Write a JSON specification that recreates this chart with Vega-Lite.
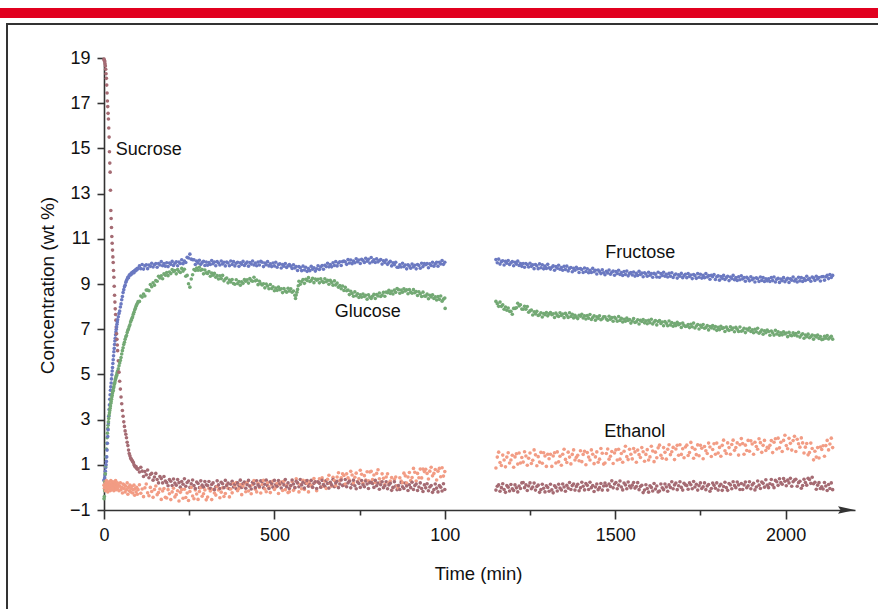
{
"$schema":"https://vega.github.io/schema/vega-lite/v6.json",
"width":751,"height":452,
"autosize":{"type":"none"},
"padding":{"left":104,"top":58,"right":23,"bottom":99},
"background":"white",
"config":{"view":{"stroke":null},"font":"Liberation Sans","text":{"font":"Liberation Sans"}},
"datasets":{
"labelL":[{"t":34.6,"v":14.93,"label":"Sucrose"}],
"labelC":[{"t":1573.6,"v":10.37,"label":"Fructose"},{"t":774,"v":7.76,"label":"Glucose"},{"t":1557.5,"v":2.45,"label":"Ethanol"}],
"obs":[
{"t":0,"F":0.30,"G":-0.50,"E":0.10,"S":18.95},
{"t":1,"F":0.35,"G":-0.40,"E":-0.05,"S":18.90},
{"t":2,"F":0.42,"G":-0.15,"E":0.25,"S":18.85},
{"t":3,"F":0.55,"G":0.25,"E":0.05,"S":18.75},
{"t":4,"F":0.72,"G":0.60,"E":-0.15,"S":18.65},
{"t":5,"F":0.88,"G":0.95,"E":0.20,"S":18.50},
{"t":6,"F":1.00,"G":1.35,"E":0.00,"S":18.30},
{"t":7,"F":1.15,"G":1.70,"E":0.30,"S":18.10},
{"t":8,"F":1.35,"G":1.95,"E":-0.10,"S":17.80},
{"t":9,"F":1.65,"G":2.20,"E":0.15,"S":17.45},
{"t":10,"F":1.95,"G":2.40,"E":0.05,"S":17.10},
{"t":11,"F":2.25,"G":2.60,"E":-0.20,"S":16.85},
{"t":12,"F":2.55,"G":2.75,"E":0.20,"S":16.55},
{"t":13,"F":2.85,"G":2.90,"E":0.10,"S":16.30},
{"t":14,"F":3.15,"G":3.05,"E":-0.05,"S":15.90},
{"t":15,"F":3.45,"G":3.20,"E":0.25,"S":15.50},
{"t":16,"F":3.65,"G":3.30,"E":0.00,"S":14.85},
{"t":17,"F":3.90,"G":3.40,"E":0.15,"S":14.35},
{"t":18,"F":4.10,"G":3.50,"E":-0.15,"S":13.95},
{"t":19,"F":4.30,"G":3.60,"E":0.10,"S":13.15},
{"t":20,"F":4.45,"G":3.72,"E":0.30,"S":12.25},
{"t":21,"F":4.62,"G":3.80,"E":0.05,"S":11.90},
{"t":22,"F":4.80,"G":3.90,"E":-0.10,"S":11.50},
{"t":23,"F":4.98,"G":4.00,"E":0.20,"S":11.10},
{"t":24,"F":5.15,"G":4.08,"E":0.10,"S":10.80},
{"t":25,"F":5.30,"G":4.18,"E":-0.05,"S":10.50},
{"t":26,"F":5.48,"G":4.25,"E":0.25,"S":10.20},
{"t":27,"F":5.65,"G":4.30,"E":0.00,"S":9.95},
{"t":28,"F":5.82,"G":4.40,"E":0.15,"S":9.60},
{"t":29,"F":6.00,"G":4.45,"E":-0.15,"S":9.30},
{"t":30,"F":6.15,"G":4.55,"E":0.10,"S":8.90},
{"t":31,"F":6.32,"G":4.60,"E":0.20,"S":8.50},
{"t":32,"F":6.48,"G":4.66,"E":-0.05,"S":8.20},
{"t":33,"F":6.60,"G":4.75,"E":0.10,"S":7.90},
{"t":34,"F":6.75,"G":4.80,"E":0.30,"S":7.65},
{"t":35,"F":6.88,"G":4.85,"E":0.05,"S":7.40},
{"t":36,"F":7.00,"G":4.92,"E":-0.10,"S":7.10},
{"t":37,"F":7.10,"G":4.96,"E":0.15,"S":6.80},
{"t":38,"F":7.22,"G":5.02,"E":0.00,"S":6.55},
{"t":39,"F":7.32,"G":5.10,"E":0.20,"S":6.30},
{"t":40,"F":7.42,"G":5.15,"E":-0.05,"S":6.05},
{"t":42,"F":7.55,"G":5.25,"E":0.10,"S":5.60},
{"t":44,"F":7.70,"G":5.38,"E":-0.15,"S":5.10},
{"t":46,"F":7.80,"G":5.50,"E":0.05,"S":4.70},
{"t":48,"F":7.98,"G":5.62,"E":0.20,"S":4.35},
{"t":50,"F":8.12,"G":5.75,"E":-0.10,"S":4.00},
{"t":52,"F":8.30,"G":5.90,"E":0.00,"S":3.70},
{"t":54,"F":8.45,"G":6.05,"E":-0.25,"S":3.40},
{"t":56,"F":8.62,"G":6.18,"E":0.15,"S":3.15},
{"t":58,"F":8.75,"G":6.32,"E":-0.05,"S":2.90},
{"t":60,"F":8.88,"G":6.42,"E":0.10,"S":2.70},
{"t":62,"F":8.95,"G":6.55,"E":-0.20,"S":2.50},
{"t":64,"F":9.08,"G":6.66,"E":0.05,"S":2.35},
{"t":66,"F":9.15,"G":6.72,"E":-0.10,"S":2.20},
{"t":68,"F":9.22,"G":6.85,"E":0.20,"S":2.00},
{"t":70,"F":9.30,"G":6.95,"E":-0.30,"S":1.85},
{"t":72,"F":9.28,"G":7.02,"E":0.00,"S":1.65},
{"t":74,"F":9.38,"G":7.12,"E":-0.15,"S":1.50},
{"t":76,"F":9.42,"G":7.20,"E":0.10,"S":1.40},
{"t":78,"F":9.40,"G":7.32,"E":-0.20,"S":1.30},
{"t":80,"F":9.48,"G":7.40,"E":-0.05,"S":1.25},
{"t":82,"F":9.45,"G":7.48,"E":0.05,"S":1.20},
{"t":84,"F":9.52,"G":7.55,"E":-0.25,"S":1.15},
{"t":86,"F":9.55,"G":7.66,"E":-0.10,"S":1.10},
{"t":88,"F":9.50,"G":7.75,"E":0.10,"S":1.00},
{"t":90,"F":9.60,"G":7.85,"E":-0.35,"S":0.95},
{"t":92,"F":9.58,"G":7.92,"E":-0.05,"S":0.90},
{"t":94,"F":9.65,"G":8.02,"E":-0.20,"S":0.92},
{"t":96,"F":9.62,"G":8.08,"E":0.00,"S":0.85},
{"t":98,"F":9.70,"G":8.15,"E":-0.30,"S":0.80},
{"t":100,"F":9.68,"G":8.22,"E":-0.10,"S":0.82},
{"t":104,"F":9.80,"G":8.23,"E":0.12,"S":0.68},
{"t":108,"F":9.68,"G":8.47,"E":-0.26,"S":0.89},
{"t":112,"F":9.86,"G":8.42,"E":-0.07,"S":0.72},
{"t":116,"F":9.66,"G":8.56,"E":-0.41,"S":0.48},
{"t":120,"F":9.80,"G":8.47,"E":-0.02,"S":0.70},
{"t":124,"F":9.85,"G":8.73,"E":0.15,"S":0.56},
{"t":128,"F":9.68,"G":8.73,"E":-0.24,"S":0.77},
{"t":132,"F":9.84,"G":8.70,"E":-0.37,"S":0.43},
{"t":136,"F":9.78,"G":8.98,"E":0.00,"S":0.57},
{"t":140,"F":9.92,"G":8.88,"E":-0.18,"S":0.62},
{"t":144,"F":9.75,"G":9.05,"E":-0.44,"S":0.32},
{"t":148,"F":9.85,"G":8.95,"E":-0.09,"S":0.46},
{"t":152,"F":9.91,"G":9.15,"E":0.06,"S":0.62},
{"t":156,"F":9.74,"G":9.12,"E":-0.32,"S":0.35},
{"t":160,"F":9.91,"G":9.34,"E":-0.23,"S":0.20},
{"t":164,"F":9.84,"G":9.27,"E":-0.07,"S":0.48},
{"t":168,"F":9.99,"G":9.36,"E":-0.53,"S":0.39},
{"t":172,"F":9.81,"G":9.23,"E":-0.16,"S":0.20},
{"t":176,"F":9.91,"G":9.45,"E":-0.05,"S":0.48},
{"t":180,"F":9.79,"G":9.39,"E":-0.44,"S":0.28},
{"t":184,"F":9.94,"G":9.51,"E":-0.47,"S":0.21},
{"t":188,"F":9.77,"G":9.37,"E":-0.10,"S":0.07},
{"t":192,"F":9.93,"G":9.53,"E":-0.28,"S":0.35},
{"t":196,"F":9.87,"G":9.46,"E":-0.54,"S":0.27},
{"t":200,"F":10.00,"G":9.64,"E":-0.20,"S":0.08},
{"t":204,"F":9.82,"G":9.55,"E":-0.04,"S":0.37},
{"t":208,"F":9.92,"G":9.60,"E":-0.42,"S":0.19},
{"t":212,"F":9.98,"G":9.45,"E":-0.32,"S":0.10},
{"t":216,"F":9.81,"G":9.64,"E":-0.15,"S":0.35},
{"t":220,"F":9.97,"G":9.55,"E":-0.60,"S":0.21},
{"t":224,"F":9.91,"G":9.51,"E":-0.22,"S":0.01},
{"t":228,"F":10.07,"G":9.69,"E":-0.10,"S":0.26},
{"t":232,"F":9.90,"G":9.57,"E":-0.48,"S":0.14},
{"t":236,"F":10.01,"G":9.65,"E":-0.08,"S":0.38},
{"t":240,"F":9.95,"G":9.34,"E":-0.45,"S":0.05},
{"t":244,"F":10.18,"G":9.38,"E":-0.25,"S":0.22},
{"t":248,"F":10.15,"G":9.01,"E":-0.58,"S":0.28},
{"t":252,"F":10.32,"G":8.86,"E":-0.18,"S":0.00},
{"t":256,"F":10.10,"G":9.22,"E":0.00,"S":0.16},
{"t":260,"F":10.07,"G":9.41,"E":-0.38,"S":0.33},
{"t":264,"F":10.07,"G":9.64,"E":-0.50,"S":0.08},
{"t":268,"F":9.86,"G":9.60,"E":-0.11,"S":-0.05},
{"t":272,"F":10.01,"G":9.71,"E":-0.29,"S":0.24},
{"t":276,"F":9.93,"G":9.61,"E":-0.53,"S":0.17},
{"t":280,"F":10.05,"G":9.74,"E":-0.18,"S":-0.01},
{"t":284,"F":9.87,"G":9.61,"E":-0.01,"S":0.29},
{"t":288,"F":9.95,"G":9.64,"E":-0.39,"S":0.10},
{"t":292,"F":10.00,"G":9.45,"E":-0.28,"S":0.01},
{"t":296,"F":9.82,"G":9.62,"E":-0.11,"S":0.26},
{"t":300,"F":9.97,"G":9.49,"E":-0.55,"S":0.12},
{"t":304,"F":9.83,"G":9.47,"E":-0.43,"S":0.08},
{"t":308,"F":9.95,"G":9.55,"E":-0.05,"S":0.26},
{"t":312,"F":9.86,"G":9.34,"E":-0.16,"S":-0.04},
{"t":316,"F":10.04,"G":9.48,"E":-0.54,"S":0.13},
{"t":320,"F":9.90,"G":9.39,"E":-0.08,"S":0.20},
{"t":324,"F":9.97,"G":9.47,"E":-0.25,"S":-0.10},
{"t":328,"F":9.81,"G":9.30,"E":-0.34,"S":0.03},
{"t":332,"F":9.99,"G":9.37,"E":0.04,"S":0.29},
{"t":336,"F":9.93,"G":9.22,"E":-0.11,"S":0.11},
{"t":340,"F":9.84,"G":9.36,"E":-0.46,"S":-0.05},
{"t":344,"F":10.02,"G":9.24,"E":-0.21,"S":0.23},
{"t":348,"F":9.89,"G":9.38,"E":-0.02,"S":0.16},
{"t":352,"F":9.96,"G":9.14,"E":-0.40,"S":-0.01},
{"t":356,"F":9.80,"G":9.22,"E":-0.27,"S":0.31},
{"t":360,"F":9.97,"G":9.26,"E":0.12,"S":0.07},
{"t":364,"F":9.93,"G":9.05,"E":-0.04,"S":0.19},
{"t":368,"F":9.81,"G":9.18,"E":-0.42,"S":-0.06},
{"t":372,"F":10.02,"G":9.09,"E":-0.07,"S":0.14},
{"t":376,"F":9.86,"G":9.20,"E":-0.24,"S":0.27},
{"t":380,"F":9.99,"G":9.02,"E":0.17,"S":0.02},
{"t":384,"F":9.80,"G":8.99,"E":0.06,"S":0.14},
{"t":388,"F":9.92,"G":9.19,"E":0.22,"S":-0.06},
{"t":392,"F":9.96,"G":9.02,"E":-0.15,"S":0.20},
{"t":396,"F":9.78,"G":9.11,"E":-0.05,"S":0.08},
{"t":400,"F":9.94,"G":8.95,"E":0.13,"S":0.32},
{"t":404,"F":9.87,"G":9.10,"E":-0.32,"S":0.00},
{"t":408,"F":10.00,"G":9.03,"E":0.06,"S":0.17},
{"t":412,"F":9.82,"G":9.20,"E":0.19,"S":0.24},
{"t":416,"F":9.91,"G":9.12,"E":-0.19,"S":-0.04},
{"t":420,"F":9.97,"G":9.19,"E":0.21,"S":0.12},
{"t":424,"F":9.79,"G":9.04,"E":-0.16,"S":0.31},
{"t":428,"F":9.95,"G":9.24,"E":0.05,"S":0.06},
{"t":432,"F":9.88,"G":9.15,"E":-0.28,"S":-0.07},
{"t":436,"F":10.02,"G":9.12,"E":0.12,"S":0.23},
{"t":440,"F":9.84,"G":9.30,"E":0.30,"S":0.16},
{"t":444,"F":9.93,"G":9.14,"E":-0.08,"S":-0.01},
{"t":448,"F":9.81,"G":9.17,"E":-0.20,"S":0.29},
{"t":452,"F":9.97,"G":8.97,"E":0.18,"S":0.11},
{"t":456,"F":9.84,"G":9.12,"E":0.00,"S":0.04},
{"t":460,"F":10.00,"G":9.01,"E":-0.25,"S":0.29},
{"t":464,"F":9.96,"G":8.96,"E":0.13,"S":0.26},
{"t":468,"F":9.77,"G":9.01,"E":0.31,"S":-0.02},
{"t":472,"F":9.93,"G":8.83,"E":-0.07,"S":0.14},
{"t":476,"F":9.85,"G":9.00,"E":-0.19,"S":0.32},
{"t":480,"F":9.99,"G":8.91,"E":0.20,"S":0.07},
{"t":484,"F":9.80,"G":8.79,"E":0.02,"S":-0.05},
{"t":488,"F":9.89,"G":8.98,"E":-0.23,"S":0.25},
{"t":492,"F":9.77,"G":8.80,"E":0.12,"S":0.18},
{"t":496,"F":9.93,"G":8.88,"E":0.28,"S":0.01},
{"t":500,"F":9.80,"G":8.70,"E":-0.09,"S":0.31},
{"t":504,"F":9.96,"G":8.82,"E":0.01,"S":0.13},
{"t":508,"F":9.74,"G":8.72,"E":0.18,"S":0.05},
{"t":512,"F":9.86,"G":8.86,"E":-0.27,"S":0.30},
{"t":516,"F":9.89,"G":8.75,"E":0.12,"S":0.17},
{"t":520,"F":9.71,"G":8.79,"E":0.24,"S":-0.03},
{"t":524,"F":9.86,"G":8.62,"E":-0.14,"S":0.23},
{"t":528,"F":9.79,"G":8.80,"E":0.27,"S":0.11},
{"t":532,"F":9.91,"G":8.69,"E":-0.10,"S":0.35},
{"t":536,"F":9.73,"G":8.64,"E":0.10,"S":0.03},
{"t":540,"F":9.81,"G":8.81,"E":-0.23,"S":0.20},
{"t":544,"F":9.86,"G":8.69,"E":-0.19,"S":-0.05},
{"t":548,"F":9.79,"G":8.79,"E":0.06,"S":0.08},
{"t":552,"F":9.69,"G":8.64,"E":0.25,"S":0.33},
{"t":556,"F":9.85,"G":8.69,"E":-0.13,"S":0.15},
{"t":560,"F":9.71,"G":8.50,"E":-0.01,"S":-0.01},
{"t":562,"G":8.36},
{"t":564,"F":9.77,"G":8.51,"E":0.38,"S":0.27},
{"t":566,"G":8.64},
{"t":568,"F":9.60,"G":8.76,"E":0.20,"S":0.20},
{"t":570,"G":8.92},
{"t":572,"F":9.77,"G":9.12,"E":-0.20,"S":0.03},
{"t":576,"F":9.72,"G":8.99,"E":0.13,"S":0.35},
{"t":580,"F":9.59,"G":9.11,"E":-0.06,"S":0.11},
{"t":584,"F":9.79,"G":9.20,"E":0.31,"S":0.23},
{"t":588,"F":9.62,"G":9.03,"E":-0.09,"S":-0.03},
{"t":592,"F":9.74,"G":9.21,"E":0.29,"S":0.17},
{"t":596,"F":9.56,"G":9.15,"E":0.18,"S":0.30},
{"t":600,"F":9.68,"G":9.28,"E":-0.20,"S":0.05},
{"t":604,"F":9.59,"G":9.11,"E":0.26,"S":0.13},
{"t":608,"F":9.78,"G":9.15,"E":0.09,"S":0.31},
{"t":612,"F":9.65,"G":9.25,"E":0.00,"S":0.01},
{"t":616,"F":9.72,"G":9.06,"E":0.39,"S":0.18},
{"t":620,"F":9.57,"G":9.22,"E":0.24,"S":0.25},
{"t":624,"F":9.67,"G":9.17,"E":-0.15,"S":-0.05},
{"t":628,"F":9.81,"G":9.21,"E":0.24,"S":0.25},
{"t":632,"F":9.64,"G":9.05,"E":0.38,"S":0.18},
{"t":636,"F":9.75,"G":9.23,"E":0.01,"S":0.01},
{"t":640,"F":9.82,"G":9.12,"E":0.42,"S":0.31},
{"t":644,"F":9.65,"G":9.07,"E":0.06,"S":0.13},
{"t":648,"F":9.83,"G":9.23,"E":0.27,"S":0.05},
{"t":652,"F":9.77,"G":9.10,"E":-0.05,"S":0.30},
{"t":656,"F":9.92,"G":9.16,"E":0.36,"S":0.17},
{"t":660,"F":9.76,"G":8.99,"E":0.54,"S":-0.03},
{"t":664,"F":9.86,"G":9.16,"E":0.17,"S":0.23},
{"t":668,"F":9.76,"G":9.07,"E":0.05,"S":0.11},
{"t":672,"F":9.94,"G":8.95,"E":0.45,"S":0.35},
{"t":676,"F":9.82,"G":9.14,"E":0.30,"S":0.03},
{"t":680,"F":9.99,"G":8.96,"E":0.08,"S":0.20},
{"t":684,"F":9.80,"G":9.04,"E":0.46,"S":0.27},
{"t":688,"F":9.93,"G":8.86,"E":0.65,"S":-0.01},
{"t":692,"F":9.98,"G":8.93,"E":0.30,"S":0.15},
{"t":696,"F":9.82,"G":8.79,"E":0.42,"S":0.33},
{"t":700,"F":9.99,"G":8.91,"E":0.60,"S":0.08},
{"t":704,"F":10.02,"G":8.71,"E":0.53,"S":0.11},
{"t":708,"F":9.98,"G":8.85,"E":0.15,"S":0.35},
{"t":712,"F":9.87,"G":8.70,"E":0.60,"S":0.03},
{"t":716,"F":10.08,"G":8.73,"E":0.43,"S":0.20},
{"t":720,"F":9.93,"G":8.53,"E":0.33,"S":0.27},
{"t":724,"F":10.06,"G":8.68,"E":0.71,"S":-0.02},
{"t":728,"F":9.90,"G":8.58,"E":0.55,"S":0.14},
{"t":732,"F":10.02,"G":8.46,"E":0.20,"S":0.32},
{"t":736,"F":9.94,"G":8.65,"E":0.45,"S":0.07},
{"t":740,"F":10.12,"G":8.48,"E":0.63,"S":-0.06},
{"t":744,"F":9.99,"G":8.57,"E":0.26,"S":0.24},
{"t":748,"F":10.06,"G":8.40,"E":0.38,"S":0.17},
{"t":752,"F":9.91,"G":8.52,"E":0.76,"S":0.00},
{"t":756,"F":10.09,"G":8.42,"E":0.58,"S":0.30},
{"t":760,"F":10.04,"G":8.56,"E":0.18,"S":0.12},
{"t":764,"F":9.95,"G":8.45,"E":0.52,"S":0.03},
{"t":768,"F":10.14,"G":8.50,"E":0.32,"S":0.28},
{"t":772,"F":10.01,"G":8.33,"E":0.69,"S":0.15},
{"t":776,"F":10.09,"G":8.52,"E":0.29,"S":-0.05},
{"t":780,"F":9.93,"G":8.42,"E":0.68,"S":0.21},
{"t":784,"F":10.17,"G":8.36,"E":0.71,"S":0.24},
{"t":788,"F":9.99,"G":8.46,"E":0.35,"S":0.17},
{"t":792,"F":10.07,"G":8.54,"E":0.55,"S":0.00},
{"t":796,"F":9.95,"G":8.36,"E":0.22,"S":0.31},
{"t":800,"F":10.11,"G":8.53,"E":0.62,"S":0.07},
{"t":804,"F":9.98,"G":8.47,"E":0.78,"S":0.19},
{"t":808,"F":10.04,"G":8.60,"E":0.38,"S":-0.08},
{"t":812,"F":10.08,"G":8.45,"E":0.24,"S":0.12},
{"t":816,"F":9.88,"G":8.51,"E":0.60,"S":0.25},
{"t":820,"F":10.03,"G":8.63,"E":0.40,"S":-0.01},
{"t":824,"F":9.95,"G":8.46,"E":0.13,"S":0.07},
{"t":828,"F":10.06,"G":8.64,"E":0.46,"S":0.25},
{"t":832,"F":9.87,"G":8.61,"E":0.60,"S":-0.06},
{"t":836,"F":9.95,"G":8.72,"E":0.20,"S":0.11},
{"t":840,"F":10.00,"G":8.58,"E":0.28,"S":0.18},
{"t":844,"F":9.80,"G":8.68,"E":0.44,"S":-0.13},
{"t":848,"F":9.94,"G":8.56,"E":-0.02,"S":0.00},
{"t":852,"F":9.85,"G":8.73,"E":0.35,"S":0.25},
{"t":856,"F":9.96,"G":8.63,"E":0.46,"S":0.06},
{"t":860,"F":9.74,"G":8.80,"E":0.07,"S":-0.10},
{"t":864,"F":9.74,"G":8.75,"E":-0.04,"S":0.08},
{"t":868,"F":9.85,"G":8.59,"E":0.43,"S":-0.09},
{"t":872,"F":9.75,"G":8.73,"E":0.28,"S":0.21},
{"t":876,"F":9.92,"G":8.64,"E":0.21,"S":0.03},
{"t":880,"F":9.77,"G":8.79,"E":0.63,"S":-0.05},
{"t":884,"F":9.84,"G":8.69,"E":0.51,"S":0.19},
{"t":888,"F":9.67,"G":8.74,"E":0.19,"S":0.06},
{"t":892,"F":9.85,"G":8.57,"E":0.46,"S":-0.14},
{"t":896,"F":9.79,"G":8.75,"E":0.66,"S":0.12},
{"t":900,"F":9.70,"G":8.64,"E":0.30,"S":-0.01},
{"t":904,"F":9.88,"G":8.59,"E":0.44,"S":0.23},
{"t":908,"F":9.76,"G":8.75,"E":0.84,"S":-0.09},
{"t":912,"F":9.83,"G":8.61,"E":0.67,"S":0.08},
{"t":916,"F":9.67,"G":8.67,"E":0.28,"S":0.15},
{"t":920,"F":9.86,"G":8.49,"E":0.62,"S":-0.14},
{"t":924,"F":9.82,"G":8.66,"E":0.43,"S":0.02},
{"t":928,"F":9.70,"G":8.57,"E":0.81,"S":0.20},
{"t":932,"F":9.92,"G":8.45,"E":0.42,"S":-0.05},
{"t":936,"F":9.77,"G":8.64,"E":0.81,"S":-0.18},
{"t":940,"F":9.90,"G":8.47,"E":0.70,"S":0.11},
{"t":944,"F":9.85,"G":8.46,"E":0.80,"S":-0.02},
{"t":948,"F":9.90,"G":8.55,"E":0.62,"S":0.16},
{"t":952,"F":9.72,"G":8.35,"E":0.37,"S":-0.15},
{"t":956,"F":9.89,"G":8.50,"E":0.72,"S":0.02},
{"t":960,"F":9.82,"G":8.43,"E":0.89,"S":0.08},
{"t":964,"F":9.96,"G":8.52,"E":0.51,"S":-0.22},
{"t":968,"F":9.79,"G":8.36,"E":0.62,"S":-0.10},
{"t":972,"F":9.89,"G":8.43,"E":0.79,"S":0.15},
{"t":976,"F":9.96,"G":8.29,"E":0.33,"S":-0.03},
{"t":980,"F":9.79,"G":8.44,"E":0.72,"S":-0.20},
{"t":984,"F":9.96,"G":8.32,"E":0.84,"S":0.08},
{"t":988,"F":9.89,"G":8.47,"E":0.47,"S":0.01},
{"t":992,"F":10.04,"G":8.24,"E":0.87,"S":-0.16},
{"t":996,"F":9.87,"G":8.33,"E":0.50,"S":0.16},
{"t":1000,"F":9.96,"G":8.38,"E":0.70,"S":-0.09},
{"t":1001,"G":7.92},
{"t":1150,"F":10.08,"G":8.23,"E":0.86,"S":-0.12},
{"t":1154,"F":9.94,"G":8.13,"E":1.34,"S":0.05},
{"t":1158,"F":10.10,"G":8.01,"E":1.56,"S":0.11},
{"t":1162,"F":9.88,"G":8.20,"E":1.10,"S":-0.17},
{"t":1166,"F":9.99,"G":8.01,"E":0.97,"S":-0.01},
{"t":1170,"F":10.03,"G":8.08,"E":1.43,"S":0.16},
{"t":1174,"F":9.84,"G":7.88,"E":1.21,"S":-0.09},
{"t":1178,"F":10.00,"G":7.98,"E":0.91,"S":-0.22},
{"t":1182,"F":9.92,"G":7.84,"E":1.34,"S":0.08},
{"t":1186,"F":10.04,"G":7.94,"E":1.53,"S":0.01},
{"t":1190,"F":9.86,"G":7.79,"E":1.08,"S":-0.16},
{"t":1194,"F":9.94,"G":7.79,"E":1.21,"S":0.13},
{"t":1198,"F":9.99,"G":7.66,"E":1.42,"S":-0.06},
{"t":1202,"F":9.81,"G":7.92,"E":0.89,"S":-0.14},
{"t":1206,"F":9.96,"G":7.92,"E":1.35,"S":0.11},
{"t":1210,"F":9.88,"G":7.95,"E":1.49,"S":-0.02},
{"t":1214,"F":10.01,"G":8.15,"E":1.03,"S":-0.20},
{"t":1218,"F":9.82,"G":8.03,"E":1.52,"S":0.06},
{"t":1222,"F":9.90,"G":8.08,"E":1.08,"S":-0.05},
{"t":1226,"F":9.78,"G":7.89,"E":1.32,"S":0.20},
{"t":1230,"F":9.91,"G":7.88,"E":1.12,"S":0.22},
{"t":1234,"F":9.74,"G":8.01,"E":1.58,"S":-0.01},
{"t":1238,"F":9.91,"G":7.88,"E":1.39,"S":0.11},
{"t":1242,"F":9.85,"G":8.00,"E":0.98,"S":-0.14},
{"t":1246,"F":9.75,"G":7.75,"E":1.29,"S":0.06},
{"t":1250,"F":9.92,"G":7.81,"E":1.52,"S":0.20},
{"t":1254,"F":9.78,"G":7.85,"E":1.06,"S":-0.06},
{"t":1258,"F":9.85,"G":7.63,"E":1.20,"S":0.02},
{"t":1262,"F":9.68,"G":7.77,"E":1.66,"S":0.19},
{"t":1266,"F":9.86,"G":7.68,"E":1.44,"S":-0.12},
{"t":1270,"F":9.81,"G":7.79,"E":0.96,"S":0.04},
{"t":1274,"F":9.68,"G":7.61,"E":1.36,"S":0.10},
{"t":1278,"F":9.89,"G":7.64,"E":1.12,"S":-0.22},
{"t":1282,"F":9.72,"G":7.73,"E":1.55,"S":-0.10},
{"t":1286,"F":9.85,"G":7.54,"E":1.07,"S":0.14},
{"t":1290,"F":9.67,"G":7.69,"E":1.53,"S":-0.04},
{"t":1294,"F":9.79,"G":7.64,"E":1.39,"S":-0.20},
{"t":1298,"F":9.69,"G":7.74,"E":0.93,"S":0.07},
{"t":1302,"F":9.87,"G":7.59,"E":1.47,"S":0.00},
{"t":1306,"F":9.72,"G":7.68,"E":1.27,"S":-0.17},
{"t":1310,"F":9.66,"G":7.74,"E":1.47,"S":0.14},
{"t":1314,"F":9.74,"G":7.64,"E":0.93,"S":-0.11},
{"t":1318,"F":9.80,"G":7.68,"E":1.39,"S":-0.24},
{"t":1322,"F":9.61,"G":7.52,"E":1.53,"S":0.07},
{"t":1326,"F":9.77,"G":7.71,"E":1.08,"S":0.00},
{"t":1330,"F":9.70,"G":7.61,"E":1.57,"S":-0.16},
{"t":1334,"F":9.83,"G":7.56,"E":1.13,"S":0.14},
{"t":1338,"F":9.65,"G":7.73,"E":1.38,"S":-0.03},
{"t":1342,"F":9.73,"G":7.61,"E":0.98,"S":-0.11},
{"t":1346,"F":9.61,"G":7.67,"E":1.47,"S":0.15},
{"t":1350,"F":9.78,"G":7.51,"E":1.69,"S":0.02},
{"t":1354,"F":9.64,"G":7.70,"E":1.24,"S":-0.17},
{"t":1358,"F":9.79,"G":7.62,"E":1.10,"S":0.09},
{"t":1362,"F":9.58,"G":7.52,"E":1.56,"S":-0.03},
{"t":1366,"F":9.69,"G":7.73,"E":1.34,"S":0.22},
{"t":1370,"F":9.73,"G":7.56,"E":1.04,"S":-0.09},
{"t":1374,"F":9.54,"G":7.66,"E":1.46,"S":0.08},
{"t":1378,"F":9.69,"G":7.50,"E":1.66,"S":0.15},
{"t":1382,"F":9.61,"G":7.62,"E":1.21,"S":-0.12},
{"t":1386,"F":9.74,"G":7.53,"E":1.33,"S":0.04},
{"t":1390,"F":9.67,"G":7.47,"E":1.42,"S":0.14},
{"t":1394,"F":9.51,"G":7.62,"E":1.18,"S":-0.15},
{"t":1398,"F":9.68,"G":7.57,"E":1.62,"S":-0.02},
{"t":1402,"F":9.64,"G":7.66,"E":1.14,"S":0.23},
{"t":1406,"F":9.51,"G":7.50,"E":1.46,"S":0.05},
{"t":1410,"F":9.71,"G":7.59,"E":1.60,"S":-0.11},
{"t":1414,"F":9.55,"G":7.45,"E":1.00,"S":0.17},
{"t":1418,"F":9.67,"G":7.60,"E":1.54,"S":0.09},
{"t":1422,"F":9.50,"G":7.49,"E":1.34,"S":-0.09},
{"t":1426,"F":9.61,"G":7.65,"E":1.21,"S":0.23},
{"t":1430,"F":9.51,"G":7.43,"E":1.66,"S":-0.01},
{"t":1434,"F":9.69,"G":7.52,"E":1.47,"S":0.08},
{"t":1438,"F":9.54,"G":7.59,"E":1.05,"S":-0.18},
{"t":1442,"F":9.61,"G":7.40,"E":1.35,"S":0.02},
{"t":1446,"F":9.44,"G":7.55,"E":1.57,"S":0.15},
{"t":1450,"F":9.62,"G":7.48,"E":1.11,"S":-0.10},
{"t":1454,"F":9.55,"G":7.59,"E":1.25,"S":-0.01},
{"t":1458,"F":9.46,"G":7.42,"E":1.72,"S":0.17},
{"t":1462,"F":9.63,"G":7.46,"E":1.51,"S":-0.12},
{"t":1466,"F":9.50,"G":7.55,"E":1.03,"S":0.06},
{"t":1470,"F":9.41,"G":7.55,"E":1.08,"S":0.19},
{"t":1474,"F":9.56,"G":7.45,"E":1.50,"S":0.07},
{"t":1478,"F":9.49,"G":7.40,"E":1.70,"S":-0.12},
{"t":1482,"F":9.62,"G":7.57,"E":1.25,"S":0.15},
{"t":1486,"F":9.43,"G":7.44,"E":1.38,"S":0.04},
{"t":1490,"F":9.52,"G":7.51,"E":1.59,"S":0.29},
{"t":1494,"F":9.57,"G":7.35,"E":1.06,"S":-0.02},
{"t":1498,"F":9.39,"G":7.53,"E":1.52,"S":0.15},
{"t":1502,"F":9.55,"G":7.46,"E":1.66,"S":0.22},
{"t":1506,"F":9.47,"G":7.35,"E":1.21,"S":-0.06},
{"t":1510,"F":9.61,"G":7.56,"E":1.69,"S":0.10},
{"t":1514,"F":9.42,"G":7.39,"E":1.25,"S":0.28},
{"t":1518,"F":9.51,"G":7.48,"E":1.50,"S":0.02},
{"t":1522,"F":9.38,"G":7.32,"E":1.11,"S":-0.11},
{"t":1526,"F":9.55,"G":7.44,"E":1.60,"S":0.19},
{"t":1530,"F":9.42,"G":7.35,"E":1.82,"S":0.11},
{"t":1534,"F":9.57,"G":7.49,"E":1.36,"S":-0.06},
{"t":1538,"F":9.36,"G":7.39,"E":1.23,"S":0.24},
{"t":1542,"F":9.47,"G":7.43,"E":1.69,"S":0.06},
{"t":1546,"F":9.51,"G":7.27,"E":1.47,"S":-0.02},
{"t":1550,"F":9.40,"G":7.36,"E":1.26,"S":0.10},
{"t":1554,"F":9.53,"G":7.47,"E":1.72,"S":0.22},
{"t":1558,"F":9.35,"G":7.30,"E":1.57,"S":-0.03},
{"t":1562,"F":9.47,"G":7.33,"E":1.11,"S":0.04},
{"t":1566,"F":9.38,"G":7.42,"E":1.65,"S":0.21},
{"t":1570,"F":9.56,"G":7.23,"E":1.45,"S":-0.10},
{"t":1574,"F":9.42,"G":7.39,"E":1.32,"S":0.04},
{"t":1578,"F":9.48,"G":7.34,"E":1.76,"S":0.09},
{"t":1582,"F":9.32,"G":7.43,"E":1.58,"S":-0.23},
{"t":1586,"F":9.50,"G":7.28,"E":1.16,"S":-0.12},
{"t":1590,"F":9.44,"G":7.37,"E":1.46,"S":0.12},
{"t":1594,"F":9.34,"G":7.24,"E":1.67,"S":-0.05},
{"t":1598,"F":9.52,"G":7.39,"E":1.21,"S":-0.21},
{"t":1602,"F":9.39,"G":7.29,"E":1.35,"S":0.07},
{"t":1606,"F":9.46,"G":7.44,"E":1.82,"S":0.00},
{"t":1610,"F":9.30,"G":7.23,"E":1.61,"S":-0.16},
{"t":1614,"F":9.47,"G":7.32,"E":1.14,"S":0.17},
{"t":1618,"F":9.43,"G":7.38,"E":1.56,"S":-0.07},
{"t":1622,"F":9.31,"G":7.19,"E":1.31,"S":0.06},
{"t":1626,"F":9.52,"G":7.34,"E":1.75,"S":-0.20},
{"t":1630,"F":9.30,"G":7.38,"E":1.87,"S":-0.16},
{"t":1634,"F":9.46,"G":7.25,"E":1.42,"S":0.15},
{"t":1638,"F":9.38,"G":7.32,"E":1.29,"S":-0.02},
{"t":1642,"F":9.52,"G":7.15,"E":1.76,"S":-0.10},
{"t":1646,"F":9.34,"G":7.34,"E":1.55,"S":0.15},
{"t":1650,"F":9.43,"G":7.26,"E":1.25,"S":0.02},
{"t":1654,"F":9.31,"G":7.15,"E":1.69,"S":-0.17},
{"t":1658,"F":9.47,"G":7.36,"E":1.89,"S":0.11},
{"t":1662,"F":9.34,"G":7.19,"E":1.45,"S":0.00},
{"t":1666,"F":9.50,"G":7.29,"E":1.58,"S":0.25},
{"t":1670,"F":9.29,"G":7.13,"E":1.77,"S":-0.06},
{"t":1674,"F":9.40,"G":7.25,"E":1.23,"S":0.11},
{"t":1678,"F":9.44,"G":7.16,"E":1.70,"S":0.19},
{"t":1682,"F":9.26,"G":7.30,"E":1.86,"S":-0.10},
{"t":1686,"F":9.41,"G":7.20,"E":1.42,"S":0.07},
{"t":1690,"F":9.34,"G":7.24,"E":1.89,"S":0.25},
{"t":1694,"F":9.47,"G":7.08,"E":1.46,"S":0.00},
{"t":1698,"F":9.28,"G":7.27,"E":1.71,"S":-0.12},
{"t":1702,"F":9.37,"G":7.17,"E":1.31,"S":0.18},
{"t":1706,"F":9.43,"G":7.12,"E":1.79,"S":0.11},
{"t":1710,"F":9.28,"G":7.13,"E":1.87,"S":0.08},
{"t":1714,"F":9.46,"G":7.21,"E":1.41,"S":-0.08},
{"t":1718,"F":9.33,"G":7.07,"E":1.54,"S":0.20},
{"t":1722,"F":9.40,"G":7.22,"E":1.99,"S":0.12},
{"t":1726,"F":9.24,"G":7.11,"E":1.76,"S":-0.06},
{"t":1730,"F":9.42,"G":7.27,"E":1.29,"S":0.26},
{"t":1734,"F":9.37,"G":7.05,"E":1.69,"S":0.02},
{"t":1738,"F":9.25,"G":7.14,"E":1.45,"S":0.14},
{"t":1742,"F":9.46,"G":7.21,"E":1.88,"S":-0.12},
{"t":1746,"F":9.30,"G":7.01,"E":1.40,"S":0.07},
{"t":1750,"F":9.43,"G":7.17,"E":1.86,"S":0.20},
{"t":1754,"F":9.26,"G":7.09,"E":1.73,"S":-0.05},
{"t":1758,"F":9.38,"G":7.21,"E":1.27,"S":0.03},
{"t":1762,"F":9.28,"G":7.04,"E":1.81,"S":0.20},
{"t":1766,"F":9.46,"G":7.07,"E":1.62,"S":-0.10},
{"t":1770,"F":9.31,"G":7.16,"E":1.50,"S":0.06},
{"t":1774,"F":9.37,"G":6.97,"E":1.96,"S":0.13},
{"t":1778,"F":9.21,"G":7.12,"E":1.79,"S":-0.17},
{"t":1782,"F":9.38,"G":7.06,"E":1.37,"S":-0.05},
{"t":1786,"F":9.32,"G":7.16,"E":1.68,"S":0.19},
{"t":1790,"F":9.42,"G":7.02,"E":1.93,"S":0.09},
{"t":1794,"F":9.20,"G":7.12,"E":1.47,"S":-0.04},
{"t":1798,"F":9.32,"G":6.95,"E":1.96,"S":0.20},
{"t":1802,"F":9.36,"G":7.08,"E":1.52,"S":-0.12},
{"t":1806,"F":9.17,"G":6.98,"E":1.77,"S":0.06},
{"t":1810,"F":9.33,"G":7.13,"E":1.38,"S":0.14},
{"t":1814,"F":9.25,"G":7.03,"E":1.86,"S":-0.13},
{"t":1818,"F":9.38,"G":7.06,"E":2.09,"S":0.04},
{"t":1822,"F":9.20,"G":6.90,"E":1.62,"S":0.23},
{"t":1826,"F":9.28,"G":7.09,"E":1.50,"S":-0.01},
{"t":1830,"F":9.34,"G":6.99,"E":1.97,"S":-0.13},
{"t":1834,"F":9.15,"G":6.94,"E":1.76,"S":0.17},
{"t":1838,"F":9.31,"G":7.11,"E":1.47,"S":0.11},
{"t":1842,"F":9.24,"G":6.99,"E":1.90,"S":-0.06},
{"t":1846,"F":9.38,"G":7.05,"E":2.09,"S":0.25},
{"t":1850,"F":9.19,"G":6.89,"E":1.64,"S":0.08},
{"t":1854,"F":9.28,"G":7.08,"E":1.76,"S":-0.01},
{"t":1858,"F":9.16,"G":7.00,"E":1.97,"S":0.24},
{"t":1862,"F":9.32,"G":6.90,"E":1.43,"S":0.11},
{"t":1866,"F":9.19,"G":7.10,"E":1.89,"S":-0.09},
{"t":1870,"F":9.36,"G":6.91,"E":2.16,"S":0.17},
{"t":1874,"F":9.22,"G":6.94,"E":1.94,"S":-0.09},
{"t":1878,"F":9.28,"G":7.04,"E":1.47,"S":0.11},
{"t":1882,"F":9.12,"G":6.85,"E":1.87,"S":0.24},
{"t":1886,"F":9.30,"G":7.01,"E":1.63,"S":-0.01},
{"t":1890,"F":9.23,"G":6.96,"E":2.08,"S":0.07},
{"t":1894,"F":9.14,"G":7.05,"E":1.60,"S":0.25},
{"t":1898,"F":9.32,"G":6.90,"E":2.06,"S":-0.06},
{"t":1902,"F":9.19,"G":6.97,"E":1.92,"S":0.11},
{"t":1906,"F":9.25,"G":6.84,"E":1.47,"S":0.18},
{"t":1910,"F":9.09,"G":7.00,"E":2.00,"S":-0.11},
{"t":1914,"F":9.27,"G":6.89,"E":1.81,"S":0.02},
{"t":1918,"F":9.23,"G":7.04,"E":1.69,"S":0.28},
{"t":1922,"F":9.11,"G":6.82,"E":2.15,"S":0.10},
{"t":1926,"F":9.31,"G":6.89,"E":1.98,"S":-0.05},
{"t":1930,"F":9.16,"G":6.96,"E":1.55,"S":0.24},
{"t":1934,"F":9.28,"G":6.78,"E":1.86,"S":0.18},
{"t":1938,"F":9.11,"G":6.93,"E":2.08,"S":0.01},
{"t":1942,"F":9.23,"G":6.84,"E":1.63,"S":0.34},
{"t":1946,"F":9.14,"G":6.96,"E":1.77,"S":0.10},
{"t":1950,"F":9.23,"G":6.90,"E":1.74,"S":-0.01},
{"t":1954,"F":9.11,"G":6.73,"E":1.86,"S":0.16},
{"t":1958,"F":9.28,"G":6.92,"E":2.07,"S":0.35},
{"t":1962,"F":9.15,"G":6.84,"E":1.54,"S":0.11},
{"t":1966,"F":9.31,"G":6.74,"E":2.00,"S":-0.01},
{"t":1970,"F":9.09,"G":6.95,"E":2.15,"S":0.31},
{"t":1974,"F":9.21,"G":6.79,"E":1.70,"S":0.25},
{"t":1978,"F":9.25,"G":6.88,"E":2.18,"S":0.09},
{"t":1982,"F":9.07,"G":6.73,"E":1.75,"S":0.38},
{"t":1986,"F":9.22,"G":6.84,"E":2.00,"S":0.21},
{"t":1990,"F":9.15,"G":6.75,"E":1.59,"S":0.14},
{"t":1994,"F":9.28,"G":6.89,"E":2.08,"S":0.39},
{"t":1998,"F":9.10,"G":6.79,"E":2.31,"S":0.27},
{"t":2002,"F":9.19,"G":6.83,"E":1.85,"S":0.07},
{"t":2006,"F":9.25,"G":6.67,"E":1.71,"S":0.32},
{"t":2010,"F":9.07,"G":6.86,"E":2.17,"S":0.20},
{"t":2014,"F":9.23,"G":6.74,"E":1.95,"S":0.40},
{"t":2018,"F":9.17,"G":6.71,"E":1.65,"S":0.05},
{"t":2022,"F":9.31,"G":6.84,"E":2.07,"S":0.25},
{"t":2026,"F":9.13,"G":6.74,"E":2.26,"S":0.32},
{"t":2030,"F":9.21,"G":6.81,"E":1.59,"S":0.36},
{"t":2034,"F":9.09,"G":6.70,"E":2.13,"S":0.05},
{"t":2038,"F":9.30,"G":6.86,"E":1.93,"S":0.21},
{"t":2042,"F":9.14,"G":6.65,"E":1.78,"S":0.27},
{"t":2046,"F":9.28,"G":6.74,"E":2.19,"S":-0.04},
{"t":2050,"F":9.11,"G":6.80,"E":1.97,"S":0.08},
{"t":2054,"F":9.24,"G":6.60,"E":1.52,"S":0.36},
{"t":2058,"F":9.16,"G":6.74,"E":1.78,"S":0.22},
{"t":2062,"F":9.34,"G":6.67,"E":1.94,"S":0.10},
{"t":2066,"F":9.20,"G":6.78,"E":1.44,"S":0.40},
{"t":2070,"F":9.24,"G":6.62,"E":1.54,"S":0.35},
{"t":2074,"F":9.12,"G":6.67,"E":1.96,"S":0.18},
{"t":2078,"F":9.31,"G":6.74,"E":1.72,"S":0.45},
{"t":2082,"F":9.26,"G":6.56,"E":1.22,"S":0.16},
{"t":2086,"F":9.16,"G":6.71,"E":1.60,"S":0.23},
{"t":2090,"F":9.34,"G":6.66,"E":1.34,"S":-0.08},
{"t":2094,"F":9.22,"G":6.74,"E":1.76,"S":0.10},
{"t":2098,"F":9.29,"G":6.59,"E":1.30,"S":0.21},
{"t":2102,"F":9.13,"G":6.68,"E":1.79,"S":-0.05},
{"t":2106,"F":9.32,"G":6.54,"E":1.68,"S":0.03},
{"t":2110,"F":9.33,"G":6.56,"E":1.84,"S":-0.07},
{"t":2114,"F":9.17,"G":6.69,"E":1.38,"S":0.22},
{"t":2118,"F":9.32,"G":6.60,"E":1.85,"S":0.06},
{"t":2122,"F":9.38,"G":6.72,"E":2.08,"S":-0.14},
{"t":2126,"F":9.24,"G":6.57,"E":1.66,"S":0.13},
{"t":2130,"F":9.42,"G":6.63,"E":1.92,"S":-0.05},
{"t":2134,"F":9.29,"G":6.69,"E":2.18,"S":0.20},
{"t":2138,"F":9.38,"G":6.56,"E":1.76,"S":-0.10}
]},
"layer":[
{"data":{"name":"obs"},
 "transform":[{"fold":["F","G","E","S"],"as":["k","v"]},{"filter":"isValid(datum.v)"}],
 "mark":{"type":"circle","size":13,"opacity":1},
 "encoding":{
  "x":{"field":"t","type":"quantitative","scale":{"domain":[0,2203.6],"nice":false,"zero":false},
   "axis":{"orient":"bottom","values":[0,250,500,750,1000,1250,1500,1750,2000],"format":"d",
    "labelExpr":"datum.value % 500 != 0 ? '' : (datum.value == 1000 ? '100' : datum.label)",
    "domain":true,"domainColor":"#333333","domainWidth":1.6,"grid":false,"ticks":true,
    "tickSize":{"condition":{"test":"datum.value % 500 != 0","value":5},"value":9},
    "tickColor":"#333333","tickWidth":1.6,
    "labelFont":"Liberation Sans","labelFontSize":18,"labelColor":"#111111","labelPadding":7,"labelFlush":false,"labelOverlap":false,
    "title":"Time (min)","titleFont":"Liberation Sans","titleFontSize":18.5,"titleFontWeight":"normal","titleColor":"#111111",
    "titleX":374,"titleY":63,"titleAlign":"center","titleBaseline":"middle"}},
  "y":{"field":"v","type":"quantitative","scale":{"domain":[-1,19],"nice":false,"zero":false},
   "axis":{"orient":"left","values":[-1,1,3,5,7,9,11,13,15,17,19],"format":"d",
    "domain":true,"domainColor":"#333333","domainWidth":1.6,"grid":false,"tickSize":7,"tickColor":"#333333","tickWidth":1.6,
    "labelFont":"Liberation Sans","labelFontSize":18,"labelColor":"#111111","labelPadding":7,"labelOverlap":false,
    "title":"Concentration (wt %)","titleFont":"Liberation Sans","titleFontSize":19,"titleFontWeight":"normal","titleColor":"#111111",
    "titleAngle":-90,"titleX":-57,"titleY":227,"titleAlign":"center","titleBaseline":"middle"}},
  "color":{"field":"k","type":"nominal","scale":{"domain":["F","G","E","S"],"range":["#6b79c1","#73a974","#f29c84","#a56b73"]},"legend":null}
 }},
{"data":{"values":[{}]},"mark":{"type":"rect","color":"#e1001f","clip":false},
 "encoding":{"x":{"datum":-306,"type":"quantitative","scale":{"domain":[0,2203.6],"nice":false,"zero":false}},
  "x2":{"datum":2300},
  "y":{"datum":21.21,"type":"quantitative","scale":{"domain":[-1,19],"nice":false,"zero":false}},
  "y2":{"datum":20.77}}},
{"data":{"values":[{}]},"mark":{"type":"rule","color":"#333333","strokeWidth":2,"clip":false},
 "encoding":{"x":{"datum":-284.6,"type":"quantitative","scale":{"domain":[0,2203.6],"nice":false,"zero":false}},
  "y":{"datum":-5.6,"type":"quantitative","scale":{"domain":[-1,19],"nice":false,"zero":false}},
  "y2":{"datum":20.504}}},
{"data":{"values":[{}]},"mark":{"type":"rule","color":"#333333","strokeWidth":2,"clip":false},
 "encoding":{"x":{"datum":-287.5,"type":"quantitative","scale":{"domain":[0,2203.6],"nice":false,"zero":false}},
  "x2":{"datum":2300},
  "y":{"datum":20.504,"type":"quantitative","scale":{"domain":[-1,19],"nice":false,"zero":false}}}},
{"data":{"values":[{}]},"mark":{"type":"point","filled":true,"opacity":1,"color":"#333333","size":289,"clip":false,"shape":"M1,0L-1,-0.43L-0.7,0L-1,0.43Z"},
 "encoding":{"x":{"datum":2178.7,"type":"quantitative","scale":{"domain":[0,2203.6],"nice":false,"zero":false}},
  "y":{"datum":-1,"type":"quantitative","scale":{"domain":[-1,19],"nice":false,"zero":false}}}},
{"data":{"name":"labelL"},
 "mark":{"type":"text","font":"Liberation Sans","fontSize":18,"color":"#111111","baseline":"middle","align":"left"},
 "encoding":{
  "x":{"field":"t","type":"quantitative","scale":{"domain":[0,2203.6],"nice":false,"zero":false}},
  "y":{"field":"v","type":"quantitative","scale":{"domain":[-1,19],"nice":false,"zero":false}},
  "text":{"field":"label"}}},
{"data":{"name":"labelC"},
 "mark":{"type":"text","font":"Liberation Sans","fontSize":18,"color":"#111111","baseline":"middle","align":"center"},
 "encoding":{
  "x":{"field":"t","type":"quantitative","scale":{"domain":[0,2203.6],"nice":false,"zero":false}},
  "y":{"field":"v","type":"quantitative","scale":{"domain":[-1,19],"nice":false,"zero":false}},
  "text":{"field":"label"}}}
]
}
